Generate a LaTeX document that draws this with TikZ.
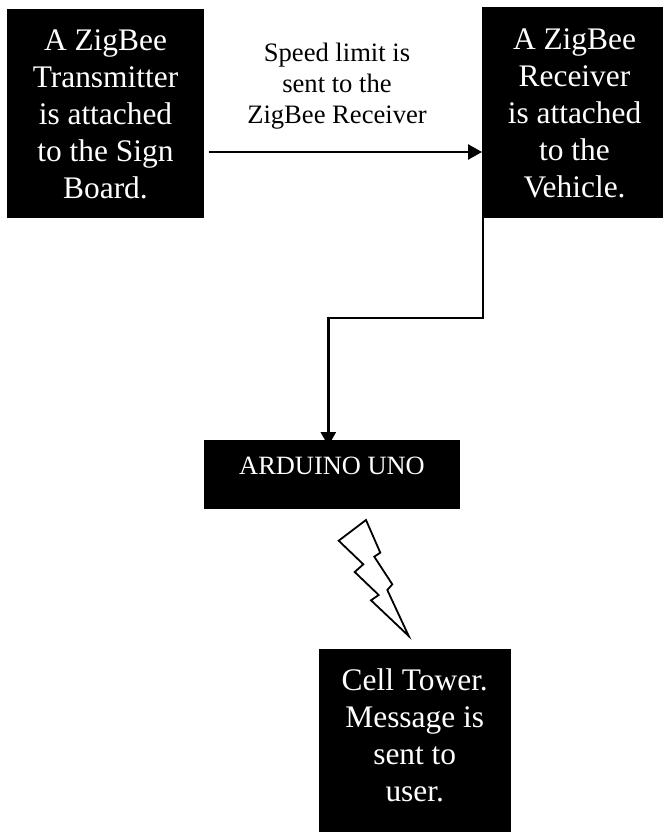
\documentclass[tikz,border=0pt]{standalone}
\usepackage{fontspec}
\setmainfont{Liberation Serif}
\usetikzlibrary{arrows.meta}
\newcommand{\boxtext}[4]{\parbox[c][#2pt][t]{#1pt}{\centering\fontsize{31.4}{37}\selectfont\color{white}\vspace*{#3pt}#4\par}}
\tikzset{
  x=1pt,y=-1pt,
  blackbox/.style={fill=black,draw=none,inner sep=0pt,outer sep=0pt,anchor=north west},
  conn/.style={draw=black,line width=2.6pt,-{Triangle[length=14pt,width=15pt]},shorten >=0pt},
  note/.style={align=center,font=\fontsize{26.6}{31}\selectfont,inner sep=0pt,anchor=north}
}
\begin{document}
\begin{tikzpicture}
\useasboundingbox (0,0) rectangle (662,832);
\node[blackbox] (tx) at (7,9) {\boxtext{197}{209}{21}{A ZigBee\\Transmitter\\is attached\\to the Sign\\Board.}};
\node[blackbox] (rx) at (482,7) {\boxtext{185}{211}{22}{A ZigBee\\Receiver\\is attached\\to the\\Vehicle.}};
\node[blackbox,minimum width=256pt,minimum height=69pt] (uno) at (204,440) {};
\node[inner sep=0pt,text=white,font=\fontsize{26.4}{31}\selectfont] (unolabel) at (332,466) {ARDUINO UNO};
\node[blackbox] (tower) at (319,649) {\boxtext{191.5}{183}{20}{Cell Tower.\\Message is\\sent to\\user.}};
\node[note] (speed) at (337,43) {Speed limit is\\sent to the\\ZigBee Receiver};
\coordinate (txout) at (209,152);
\coordinate (rxin) at (482,152);
\coordinate (rxout) at (483,218);
\coordinate (bend1) at (483,318);
\coordinate (bend2) at (328.3,318);
\coordinate (unoin) at (328.3,446);
\draw[conn] (txout) -- (rxin);
\draw[conn] (rxout) -- (bend1) -- (bend2) -- (unoin);
\draw[line width=1.8pt,line join=miter,fill=white] (366,520) -- (338.7,540.7) -- (363.3,564.3) -- (354.7,572) -- (378.7,595) -- (371,600.3) -- (408.7,636) -- (387.3,590) -- (392.3,584.3) -- (374.3,556.7) -- (380.3,552.7) -- cycle;
\end{tikzpicture}
\end{document}
